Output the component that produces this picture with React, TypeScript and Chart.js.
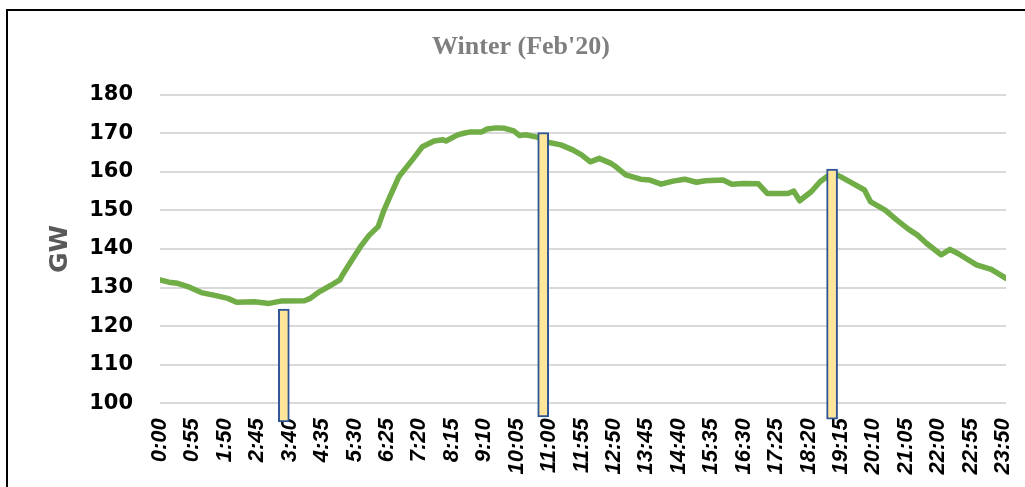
import { useEffect, useRef } from "react";
import { Chart, registerables } from "chart.js";

Chart.register(...registerables);

const chartTitle = "Winter (Feb'20)";
const yAxisTitle = "GW";

const xTickLabels = [
  "0:00", "0:55", "1:50", "2:45", "3:40", "4:35", "5:30", "6:25", "7:20",
  "8:15", "9:10", "10:05", "11:00", "11:55", "12:50", "13:45", "14:40",
  "15:35", "16:30", "17:25", "18:20", "19:15", "20:10", "21:05", "22:00",
  "22:55", "23:50",
];
const yTickValues = [100, 110, 120, 130, 140, 150, 160, 170, 180];

const loadTimes = [
  "0:00", "0:15", "0:30", "0:50", "1:10", "1:35", "1:55", "2:10", "2:40", "3:05",
  "3:25", "4:05", "4:15", "4:30", "4:50", "5:05", "5:10", "5:25", "5:40", "5:55",
  "6:10", "6:20", "6:30", "6:45", "7:10", "7:25", "7:45", "8:00", "8:05", "8:25",
  "8:35", "8:45", "9:05", "9:15", "9:30", "9:45", "10:00", "10:10", "10:20", "10:40",
  "11:00", "11:20", "11:40", "11:55", "12:10", "12:25", "12:45", "12:55", "13:10", "13:35",
  "13:50", "14:10", "14:30", "14:50", "15:10", "15:25", "15:55", "16:10", "16:30", "16:55",
  "17:10", "17:45", "17:55", "18:05", "18:25", "18:40", "18:55", "19:00", "19:15", "19:35",
  "19:55", "20:05", "20:30", "20:50", "21:10", "21:25", "21:40", "22:05", "22:20", "22:35",
  "23:05", "23:30", "23:55",
];
const loadGW = [
  132.0, 131.4, 131.1, 130.1, 128.7, 127.9, 127.2, 126.2, 126.3, 125.9,
  126.5, 126.6, 127.2, 128.9, 130.6, 132.0, 133.4, 137.0, 140.6, 143.6,
  145.8, 150.1, 153.6, 158.7, 163.5, 166.5, 168.0, 168.3, 168.0, 169.6,
  170.0, 170.3, 170.3, 171.1, 171.4, 171.3, 170.6, 169.4, 169.6, 169.0,
  167.6, 167.0, 165.7, 164.4, 162.6, 163.5, 162.2, 161.1, 159.2, 158.1,
  157.9, 156.8, 157.6, 158.1, 157.3, 157.7, 157.9, 156.8, 157.0, 156.9,
  154.4, 154.4, 155.0, 152.5, 154.9, 157.5, 159.2, 159.8, 158.7, 157.0,
  155.3, 152.3, 150.1, 147.5, 145.1, 143.6, 141.5, 138.5, 139.9, 138.7,
  135.9, 134.7, 132.4,
];

const peakTimes = ["3:30", "10:50", "19:00"];
const peakLow = [95.2, 96.5, 95.9];
const peakHigh = [124.4, 170.2, 160.7];

const toMin = (s: string) => {
  const [h, m] = s.split(":").map(Number);
  return h * 60 + m;
};

export default function App() {
  const ref = useRef<HTMLCanvasElement | null>(null);

  useEffect(() => {
    if (!ref.current) return;
    const chart = new Chart(ref.current, {
      type: "line",
      data: {
        datasets: [
          {
            type: "bar",
            data: peakTimes.map((t, i) => ({ x: toMin(t), y: [peakLow[i], peakHigh[i]] })),
            backgroundColor: "#FFE699",
            borderColor: "#2F5597",
            borderWidth: 2,
            borderSkipped: false,
            barThickness: 11,
            clip: false,
            order: 0,
          } as any,
          {
            type: "line",
            data: loadTimes.map((t, i) => ({ x: toMin(t), y: loadGW[i] })),
            borderColor: "#70AD47",
            borderWidth: 5.5,
            pointRadius: 0,
            tension: 0,
            borderCapStyle: "round",
            borderJoinStyle: "round",
            order: 1,
          } as any,
        ],
      },
      options: {
        animation: false,
        responsive: false,
        layout: { padding: { left: 36, right: 19, top: 0, bottom: 0 } },
        plugins: {
          legend: { display: false },
          tooltip: { enabled: false },
          title: {
            display: true,
            text: chartTitle,
            color: "#7F7F7F",
            font: { family: "'Liberation Serif', 'Times New Roman', serif", size: 26, weight: "bold" },
            padding: { top: 31.5, bottom: 32 },
          },
        },
        scales: {
          x: {
            type: "linear",
            offset: false,
            min: 0,
            max: 1435,
            afterBuildTicks: (s: any) => {
              s.ticks = xTickLabels.map((l) => ({ value: toMin(l) }));
            },
            afterFit: (s: any) => {
              s.height = 83.7;
              s.paddingLeft = 0;
              s.paddingRight = 0;
            },
            grid: { display: false, drawTicks: false, offset: false },
            border: { display: false },
            ticks: {
              autoSkip: false,
              minRotation: 90,
              maxRotation: 90,
              padding: 15,
              color: "#000000",
              font: { family: "'Liberation Sans', Arial, sans-serif", size: 22, weight: "bold", style: "italic" },
              callback: (_v: any, i: number) => xTickLabels[i],
            },
          },
          y: {
            min: 100,
            max: 180,
            afterBuildTicks: (s: any) => {
              s.ticks = yTickValues.map((v) => ({ value: v }));
            },
            afterFit: (s: any) => {
              s.width = 124;
            },
            grid: { color: "#D9D9D9", lineWidth: 2, drawTicks: false },
            border: { display: false },
            ticks: {
              padding: 27,
              color: "#000000",
              font: { family: "'DejaVu Sans', Arial, sans-serif", size: 21, weight: "bold" },
            },
            title: {
              display: true,
              text: yAxisTitle,
              color: "#595959",
              font: { family: "'DejaVu Sans', Arial, sans-serif", size: 25, weight: "bold" },
              padding: { top: 9, bottom: 0 },
            },
          },
        },
      } as any,
    });
    return () => chart.destroy();
  }, []);

  return (
    <div
      style={{
        position: "absolute",
        left: 0,
        top: 0,
        width: 1025,
        height: 487,
        overflow: "hidden",
        background: "#FFFFFF",
      }}
    >
      <div
        style={{
          position: "absolute",
          left: 6,
          top: 9,
          width: 1100,
          height: 600,
          border: "2px solid #000000",
          boxSizing: "border-box",
        }}
      />
      <canvas
        ref={ref}
        width={1025}
        height={487}
        style={{ position: "absolute", left: 0, top: 0, width: 1025, height: 487 }}
      />
    </div>
  );
}
